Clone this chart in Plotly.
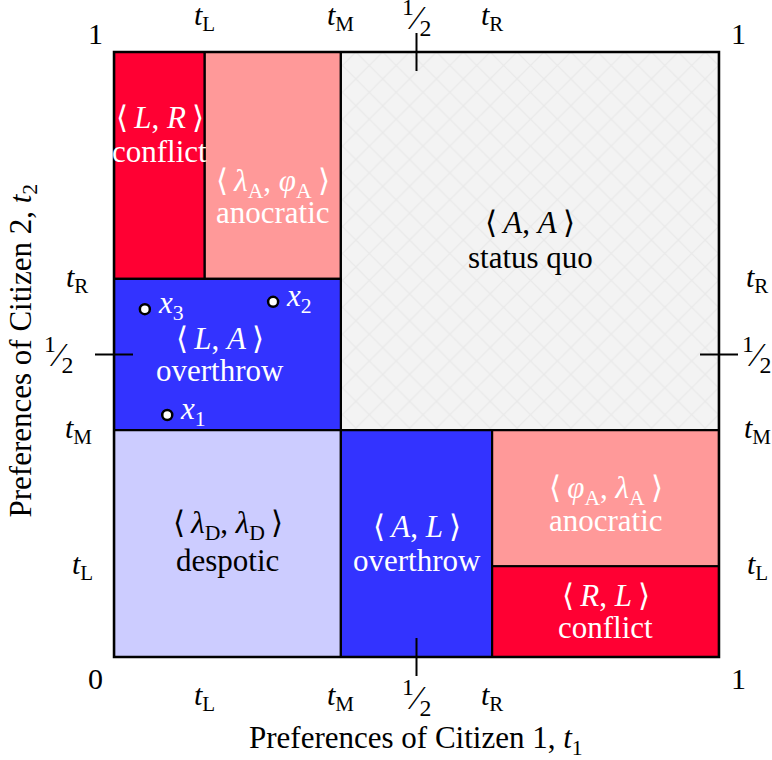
import plotly.graph_objects as go

# ---- data ----
t_L, t_M, t_R, half = 0.15, 0.375, 0.625, 0.5

region_names = ["conflict LR", "anocratic top", "status quo", "overthrow LA",
                "despotic", "overthrow AL", "anocratic right", "conflict RL"]
region_x0 = [0, t_L, t_M, 0, 0, t_M, t_R, t_R]
region_x1 = [t_L, t_M, 1, t_M, t_M, t_R, 1, 1]
region_y0 = [t_R, t_R, t_M, t_M, 0, 0, t_L, 0]
region_y1 = [1, 1, 1, t_R, t_M, t_M, t_M, t_L]

TS = "\u2009"
label_line1 = [f"⟨{TS}<i>L</i>, <i>R</i>{TS}⟩",
               f"⟨{TS}<i>λ</i><sub>A</sub>, <i>φ</i><sub>A</sub>{TS}⟩",
               f"⟨{TS}<i>A</i>, <i>A</i>{TS}⟩",
               f"⟨{TS}<i>L</i>, <i>A</i>{TS}⟩",
               f"⟨{TS}<i>λ</i><sub>D</sub>, <i>λ</i><sub>D</sub>{TS}⟩",
               f"⟨{TS}<i>A</i>, <i>L</i>{TS}⟩",
               f"⟨{TS}<i>φ</i><sub>A</sub>, <i>λ</i><sub>A</sub>{TS}⟩",
               f"⟨{TS}<i>R</i>, <i>L</i>{TS}⟩"]
label_line2 = ["conflict", "anocratic", "status quo", "overthrow", "despotic", "overthrow",
               "anocratic", "conflict"]
label_x = [0.076, 0.263, 0.688, 0.175, 0.188, 0.5, 0.813, 0.813]
label_y1 = [0.891, 0.783, 0.719, 0.527, 0.218, 0.215, 0.276, 0.102]
label_y2 = [0.835, 0.734, 0.661, 0.473, 0.160, 0.159, 0.225, 0.048]

point_names = ["<i>x</i><sub>1</sub>", "<i>x</i><sub>2</sub>", "<i>x</i><sub>3</sub>"]
point_x = [0.088, 0.263, 0.051]
point_y = [0.400, 0.587, 0.575]

tick_vals = [t_L, t_M, half, t_R]
tick_text = ["<i>t</i><sub>L</sub>", "<i>t</i><sub>M</sub>", "<sup>1</sup>⁄<sub>2</sub>", "<i>t</i><sub>R</sub>"]

# ---- styles ----
FONT = "Liberation Serif"
region_fill = ["#ff0033", "#ff9999", "#f2f2f2", "#3333ff", "#ccccff", "#3333ff", "#ff9999", "#ff0033"]
label_color = ["white", "white", "black", "white", "black", "white", "white", "white"]
FS = 31
TFS = 30
tick_size = [TFS, TFS, 34, TFS]

fig = go.Figure()
for i in range(len(region_names)):
    x0, x1, y0, y1 = region_x0[i], region_x1[i], region_y0[i], region_y1[i]
    kw = {}
    if region_names[i] == "status quo":
        kw["fillpattern"] = dict(shape="x", bgcolor="#f3f3f3", fgcolor="#e0e0e0", size=19, solidity=0.13)
    fig.add_trace(go.Scatter(
        x=[x0, x1, x1, x0, x0], y=[y0, y0, y1, y1, y0], mode="lines", fill="toself",
        fillcolor=region_fill[i], line=dict(color="black", width=2.2), hoverinfo="skip",
        showlegend=False, **kw))

fig.add_trace(go.Scatter(
    x=point_x, y=point_y, mode="markers", cliponaxis=False,
    marker=dict(size=10, color="white", line=dict(color="black", width=2.5)),
    hoverinfo="skip", showlegend=False))

ann = []
for i in range(len(region_names)):
    for yy, txt in ((label_y1[i], label_line1[i]), (label_y2[i], label_line2[i])):
        ann.append(dict(x=label_x[i], y=yy, xref="x", yref="y", text=txt, showarrow=False,
                        font=dict(family=FONT, size=FS, color=label_color[i]),
                        xanchor="center", yanchor="middle"))

for i in range(len(point_names)):
    ann.append(dict(x=point_x[i], y=point_y[i], xref="x", yref="y", text=point_names[i],
                    showarrow=False, xanchor="left", yanchor="middle", xshift=11, yshift=4,
                    font=dict(family=FONT, size=FS, color="white")))

# tick labels on all four sides
left_shift = [-32, -36, -55, -37]
for v, t, ls, sz in zip(tick_vals, tick_text, left_shift, tick_size):
    f = dict(family=FONT, size=sz, color="black")
    common = dict(xref="x", yref="y", text=t, showarrow=False, xanchor="center",
                  yanchor="middle", font=f)
    ann.append(dict(x=v, y=0, yshift=-40, **common))
    ann.append(dict(x=v, y=1, yshift=35, **common))
    ann.append(dict(x=0, y=v, xshift=ls, **common))
    ann.append(dict(x=1, y=v, xshift=38, **common))

corner_x = [0, 0, 1, 1]
corner_y = [0, 1, 0, 1]
corner_t = ["0", "1", "1", "1"]
for cx, cy, ct in zip(corner_x, corner_y, corner_t):
    ann.append(dict(x=cx, y=cy, xref="x", yref="y", text=ct, showarrow=False,
                    xanchor="center", yanchor="middle",
                    xshift=-19 if cx == 0 else 19, yshift=-21 if cy == 0 else 19,
                    font=dict(family=FONT, size=TFS, color="black")))

ann.append(dict(x=0.5, y=0, xref="paper", yref="paper", yshift=-83, xshift=-1,
                xanchor="center", yanchor="middle",
                text="Preferences of Citizen 1, <i>t</i><sub>1</sub>", showarrow=False,
                font=dict(family=FONT, size=FS, color="black")))
ann.append(dict(x=0, y=0.5, xref="paper", yref="paper", xshift=-92, yshift=4, textangle=-90,
                xanchor="center", yanchor="middle",
                text="Preferences of Citizen 2, <i>t</i><sub>2</sub>", showarrow=False,
                font=dict(family=FONT, size=FS, color="black")))

tick_line = dict(color="black", width=2)
shapes = [
    dict(type="line", xref="x", yref="paper", x0=half, x1=half, ysizemode="pixel", yanchor=0,
         y0=-19, y1=19, line=tick_line),
    dict(type="line", xref="x", yref="paper", x0=half, x1=half, ysizemode="pixel", yanchor=1,
         y0=-19, y1=19, line=tick_line),
    dict(type="line", xref="paper", yref="y", y0=half, y1=half, xsizemode="pixel", xanchor=0,
         x0=-19, x1=19, line=tick_line),
    dict(type="line", xref="paper", yref="y", y0=half, y1=half, xsizemode="pixel", xanchor=1,
         x0=-19, x1=19, line=tick_line),
    dict(type="rect", xref="paper", yref="paper", x0=0, x1=1, y0=0, y1=1,
         line=dict(color="black", width=2.5)),
]

fig.update_layout(
    width=772, height=760, margin=dict(l=114, r=53, t=52, b=103),
    paper_bgcolor="white", plot_bgcolor="white",
    xaxis=dict(range=[0, 1], visible=False, fixedrange=True),
    yaxis=dict(range=[0, 1], visible=False, fixedrange=True),
    annotations=ann, shapes=shapes, showlegend=False,
)
fig.write_html("out.html", config={"displayModeBar": False},
               post_script="document.body.style.margin='0px';document.body.style.overflow='hidden';")
